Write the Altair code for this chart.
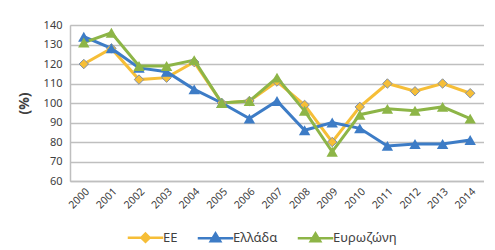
import altair as alt
import pandas as pd

years = [str(y) for y in range(2000, 2015)]
ee = [120, 128, 112, 113, 121, 100, 101, 111, 99, 80, 98, 110, 106, 110, 105]
greece = [134, 128, 118, 116, 107, 100, 92, 101, 86, 90, 87, 78, 79, 79, 81]
eurozone = [131, 136, 119, 119, 122, 100, 101, 113, 96, 75, 94, 97, 96, 98, 92]

series_names = ["EE", "Ελλάδα", "Ευρωζώνη"]
colors = ["#F6BE37", "#3D7CC6", "#8DB547"]
legend_paths = [
    "M-1.5,0H-0.35M0.35,0H1.5M0,-0.35L0.35,0L0,0.35L-0.35,0Z",
    "M-1.5,0H1.5M0,-0.4L0.4,0.27L-0.4,0.27Z",
    "M-1.5,0H1.5M0,-0.4L0.4,0.27L-0.4,0.27Z",
]

rows = []
for name, vals in zip(series_names, [ee, greece, eurozone]):
    for y, v in zip(years, vals):
        rows.append({"year": y, "value": v, "series": name})
df = pd.DataFrame(rows)

x = alt.X("year:O", title=None, sort=years,
          scale=alt.Scale(paddingOuter=0.5),
          axis=alt.Axis(labelAngle=-45, labelFontSize=10.5, labelColor="#404040",
                        labelFont="Noto Sans", ticks=False, domain=True,
                        domainColor="#BFBFBF", domainWidth=1.5, grid=False,
                        labelPadding=5))
y = alt.Y("value:Q", title="(%)",
          scale=alt.Scale(domain=[60, 140], nice=False, zero=False),
          axis=alt.Axis(values=list(range(60, 141, 10)), ticks=False,
                        labelFontSize=11, labelColor="#404040", labelFont="Noto Sans",
                        titleFontSize=14, titleFontWeight="bold", titleColor="#404040",
                        titleFont="Noto Sans", titlePadding=12,
                        gridColor="#BFBFBF", gridWidth=1.5,
                        domainColor="#BFBFBF", domainWidth=1.5, labelPadding=8))

stroke_scale = alt.Scale(domain=series_names, range=colors)
shape_scale = alt.Scale(domain=series_names, range=legend_paths)

leg = alt.Legend(title=None, orient="none", direction="horizontal",
                 legendX=62, legendY=199,
                 symbolSize=560, symbolOpacity=1, symbolStrokeWidth=2.5,
                 labelFontSize=13, labelColor="#404040",
                 labelFont="Noto Sans", columnPadding=14)

base = alt.Chart(df)

lines = base.mark_line(strokeWidth=3).encode(
    x=x, y=y,
    stroke=alt.Stroke("series:N", scale=stroke_scale, legend=leg),
)

pts_ee = base.transform_filter(alt.datum.series == "EE").mark_point(
    shape="diamond", filled=True, size=90, stroke="#8090A8", strokeWidth=1, opacity=1
).encode(
    x=x, y=y,
    fill=alt.Fill("series:N", scale=stroke_scale, legend=leg),
)

pts_tri = base.transform_filter(alt.datum.series != "EE").mark_point(
    shape="triangle-up", filled=True, size=130, opacity=1
).encode(
    x=x, y=y,
    fill=alt.Fill("series:N", scale=stroke_scale, legend=leg),
)

legend_layer = base.mark_point(opacity=0, filled=False, strokeWidth=2.5).encode(
    x=x, y=y,
    shape=alt.Shape("series:N", scale=shape_scale, legend=leg),
    stroke=alt.Stroke("series:N", scale=stroke_scale, legend=leg),
    fill=alt.Fill("series:N", scale=stroke_scale, legend=leg),
)

chart = alt.layer(lines, pts_ee, pts_tri, legend_layer).properties(
    width=414, height=156,
    padding={"left": 9, "top": 11, "right": 0, "bottom": 0},
).configure_view(stroke=None).configure(background="white")

chart.save("out.html", embed_options={"renderer": "svg", "actions": False})
